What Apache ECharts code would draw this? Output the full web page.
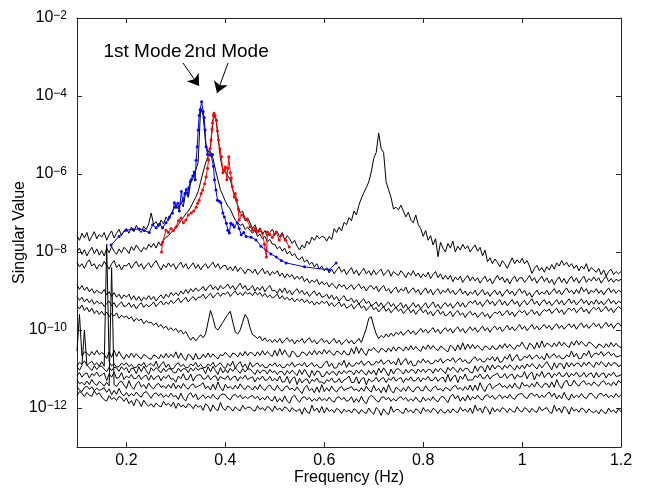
<!DOCTYPE html>
<html><head><meta charset="utf-8">
<script src="https://cdn.jsdelivr.net/npm/echarts@6/dist/echarts.min.js"></script>
<style>html,body{margin:0;padding:0;background:#fff}#c{width:645px;height:490px}</style>
</head><body><div id="c"></div>
<script>
// Frequency grid (Hz), 0.005 Hz resolution
const freq = [
0.1,0.105,0.11,0.115,0.12,0.125,0.13,0.135,0.14,0.145,
0.15,0.155,0.16,0.165,0.17,0.175,0.18,0.185,0.19,0.195,
0.2,0.205,0.21,0.215,0.22,0.225,0.23,0.235,0.24,0.245,
0.25,0.255,0.26,0.265,0.27,0.275,0.28,0.285,0.29,0.295,
0.3,0.305,0.31,0.315,0.32,0.325,0.33,0.335,0.34,0.345,
0.35,0.355,0.36,0.365,0.37,0.375,0.38,0.385,0.39,0.395,
0.4,0.405,0.41,0.415,0.42,0.425,0.43,0.435,0.44,0.445,
0.45,0.455,0.46,0.465,0.47,0.475,0.48,0.485,0.49,0.495,
0.5,0.505,0.51,0.515,0.52,0.525,0.53,0.535,0.54,0.545,
0.55,0.555,0.56,0.565,0.57,0.575,0.58,0.585,0.59,0.595,
0.6,0.605,0.61,0.615,0.62,0.625,0.63,0.635,0.64,0.645,
0.65,0.655,0.66,0.665,0.67,0.675,0.68,0.685,0.69,0.695,
0.7,0.705,0.71,0.715,0.72,0.725,0.73,0.735,0.74,0.745,
0.75,0.755,0.76,0.765,0.77,0.775,0.78,0.785,0.79,0.795,
0.8,0.805,0.81,0.815,0.82,0.825,0.83,0.835,0.84,0.845,
0.85,0.855,0.86,0.865,0.87,0.875,0.88,0.885,0.89,0.895,
0.9,0.905,0.91,0.915,0.92,0.925,0.93,0.935,0.94,0.945,
0.95,0.955,0.96,0.965,0.97,0.975,0.98,0.985,0.99,0.995,
1.0,1.005,1.01,1.015,1.02,1.025,1.03,1.035,1.04,1.045,
1.05,1.055,1.06,1.065,1.07,1.075,1.08,1.085,1.09,1.095,
1.1,1.105,1.11,1.115,1.12,1.125,1.13,1.135,1.14,1.145,
1.15,1.155,1.16,1.165,1.17,1.175,1.18,1.185,1.19,1.195,1.2];

// Singular values (log10 of value), one array per singular value curve
const sv1 = [
-7.58,-7.7,-7.52,-7.64,-7.5,-7.72,-7.6,-7.48,-7.66,-7.55,
-7.62,-7.5,-7.7,-7.56,-7.46,-7.64,-7.52,-7.42,-7.58,-7.46,
-7.4,-7.52,-7.36,-7.48,-7.32,-7.44,-7.5,-7.34,-7.42,-7.28,
-7.0,-7.3,-7.22,-7.36,-7.18,-7.28,-7.1,-7.2,-7.02,-6.92,
-6.78,-6.9,-6.72,-6.84,-6.45,-6.6,-6.2,-6.1,-5.9,-5.7,
-4.3,-4.5,-5.2,-5.45,-5.3,-4.6,-4.5,-5.0,-5.6,-5.9,
-5.95,-6.05,-6.15,-6.4,-6.62,-6.8,-7.0,-6.95,-7.2,-7.12,
-7.25,-7.4,-7.3,-7.48,-7.38,-7.55,-7.45,-7.6,-7.5,-7.42,
-7.55,-7.48,-7.62,-7.5,-7.7,-7.58,-7.66,-7.78,-7.7,-7.85,
-7.95,-7.82,-7.9,-7.72,-7.8,-7.62,-7.7,-7.58,-7.66,-7.6,
-7.62,-7.72,-7.6,-7.68,-7.4,-7.5,-7.36,-7.46,-7.24,-7.3,
-7.12,-7.2,-6.95,-7.05,-6.8,-6.62,-6.48,-6.35,-6.2,-5.95,
-5.6,-5.45,-4.95,-5.35,-5.45,-6.2,-6.4,-6.6,-6.9,-6.85,
-6.92,-6.8,-6.95,-7.1,-6.98,-7.18,-7.25,-7.05,-7.3,-7.4,
-7.6,-7.45,-7.7,-7.58,-7.82,-7.66,-8.12,-7.75,-7.9,-8.0,
-7.78,-7.9,-7.72,-8.0,-7.85,-7.95,-7.8,-7.92,-7.84,-8.0,
-7.9,-7.82,-7.98,-7.88,-8.1,-7.95,-8.25,-8.15,-8.3,-8.18,
-8.26,-8.38,-8.22,-8.3,-8.42,-8.28,-8.15,-8.3,-8.2,-8.28,
-8.16,-8.3,-8.22,-8.36,-8.55,-8.42,-8.34,-8.48,-8.4,-8.52,
-8.38,-8.46,-8.32,-8.44,-8.28,-8.36,-8.22,-8.34,-8.26,-8.38,
-8.3,-8.42,-8.34,-8.48,-8.36,-8.44,-8.3,-8.5,-8.4,-8.46,
-8.52,-8.42,-8.58,-8.46,-8.62,-8.5,-8.44,-8.58,-8.5,-8.56,-8.5];
const sv2 = [
-8.0,-7.9,-8.06,-7.94,-8.1,-7.98,-7.88,-8.04,-7.92,-8.08,
-7.96,-8.1,-7.9,-8.02,-7.86,-7.98,-8.06,-7.92,-8.02,-7.88,
-7.94,-8.04,-7.86,-7.96,-7.82,-7.92,-8.0,-7.88,-7.94,-7.8,
-7.88,-7.78,-7.9,-7.74,-7.84,-7.7,-7.62,-7.58,-7.5,-7.44,
-7.38,-7.3,-7.2,-7.12,-7.02,-6.95,-6.85,-6.72,-6.6,-6.45,
-6.2,-5.95,-5.72,-5.55,-5.42,-5.6,-5.9,-6.15,-6.4,-6.55,
-6.7,-6.82,-6.9,-7.05,-7.18,-7.25,-7.32,-7.28,-7.42,-7.36,
-7.45,-7.52,-7.44,-7.6,-7.54,-7.66,-7.6,-7.74,-7.68,-7.8,
-7.8,-7.92,-7.86,-7.98,-7.9,-8.05,-7.98,-8.1,-8.04,-8.16,
-8.2,-8.12,-8.26,-8.2,-8.32,-8.26,-8.38,-8.3,-8.44,-8.36,
-8.48,-8.4,-8.54,-8.44,-8.56,-8.46,-8.38,-8.52,-8.44,-8.58,
-8.48,-8.4,-8.56,-8.46,-8.6,-8.5,-8.42,-8.56,-8.48,-8.6,
-8.46,-8.58,-8.5,-8.44,-8.6,-8.52,-8.46,-8.62,-8.5,-8.56,
-8.6,-8.48,-8.56,-8.66,-8.52,-8.6,-8.48,-8.62,-8.54,-8.66,
-8.56,-8.64,-8.52,-8.68,-8.58,-8.5,-8.66,-8.56,-8.7,-8.6,
-8.7,-8.6,-8.76,-8.64,-8.72,-8.62,-8.78,-8.68,-8.6,-8.74,
-8.64,-8.74,-8.66,-8.8,-8.7,-8.62,-8.76,-8.68,-8.82,-8.7,
-8.6,-8.72,-8.64,-8.78,-8.68,-8.82,-8.7,-8.62,-8.76,-8.66,
-8.66,-8.78,-8.7,-8.6,-8.74,-8.66,-8.8,-8.7,-8.62,-8.76,
-8.66,-8.8,-8.7,-8.84,-8.72,-8.64,-8.78,-8.68,-8.82,-8.7,
-8.62,-8.76,-8.66,-8.8,-8.7,-8.62,-8.78,-8.68,-8.74,-8.64,
-8.74,-8.66,-8.8,-8.7,-8.62,-8.76,-8.68,-8.78,-8.7,-8.74,-8.7];
const sv3 = [
-8.26,-8.38,-8.3,-8.42,-8.28,-8.2,-8.36,-8.3,-8.44,-8.32,
-8.38,-8.24,-8.34,-8.44,-8.3,-8.22,-8.4,-8.32,-8.46,-8.34,
-8.36,-8.28,-8.42,-8.32,-8.24,-8.38,-8.3,-8.44,-8.34,-8.28,
-8.4,-8.3,-8.22,-8.36,-8.46,-8.32,-8.4,-8.28,-8.38,-8.3,
-8.44,-8.34,-8.26,-8.4,-8.3,-8.44,-8.36,-8.28,-8.42,-8.32,
-8.46,-8.36,-8.3,-8.42,-8.34,-8.26,-8.4,-8.3,-8.44,-8.36,
-8.34,-8.46,-8.38,-8.48,-8.36,-8.5,-8.4,-8.46,-8.56,-8.44,
-8.46,-8.54,-8.44,-8.58,-8.5,-8.42,-8.56,-8.48,-8.6,-8.5,
-8.56,-8.48,-8.62,-8.54,-8.66,-8.56,-8.64,-8.58,-8.7,-8.62,
-8.7,-8.62,-8.76,-8.68,-8.8,-8.72,-8.78,-8.7,-8.84,-8.76,
-8.84,-8.78,-8.9,-8.8,-8.86,-8.94,-8.82,-8.9,-8.84,-8.96,
-8.9,-8.84,-8.96,-8.88,-8.82,-8.94,-8.88,-9.0,-8.9,-8.86,
-8.96,-8.88,-9.02,-8.92,-8.86,-9.0,-8.94,-9.06,-8.96,-8.9,
-9.04,-8.94,-9.0,-8.9,-9.06,-8.98,-8.92,-9.04,-8.96,-9.1,
-9.0,-8.92,-9.06,-8.96,-9.1,-9.0,-8.94,-9.08,-8.98,-9.04,
-8.94,-9.06,-8.98,-9.1,-9.02,-8.94,-9.08,-9.0,-9.12,-9.02,
-9.08,-8.98,-9.12,-9.04,-8.96,-9.1,-9.02,-9.14,-9.04,-8.98,
-9.1,-9.0,-9.14,-9.04,-8.96,-9.08,-9.0,-9.12,-9.02,-8.94,
-9.06,-8.98,-9.12,-9.04,-9.16,-9.06,-8.98,-9.1,-9.02,-9.08,
-8.98,-9.1,-9.02,-8.94,-9.06,-8.98,-9.1,-9.0,-8.92,-9.04,
-8.98,-9.08,-8.96,-9.06,-8.9,-9.02,-8.94,-9.08,-8.98,-9.04,
-8.94,-9.06,-8.98,-9.1,-9.0,-8.92,-9.04,-8.96,-9.06,-8.98,-9.02];
const sv4 = [
-8.84,-8.96,-8.86,-8.98,-8.9,-9.02,-8.94,-9.06,-8.98,-9.04,
-9.06,-8.96,-9.1,-9.02,-9.14,-9.04,-9.16,-9.08,-9.2,-9.1,
-9.16,-9.08,-9.22,-9.12,-9.24,-9.14,-9.26,-9.16,-9.22,-9.12,
-9.22,-9.14,-9.26,-9.16,-9.1,-9.2,-9.08,-9.16,-9.04,-9.12,
-9.04,-9.12,-9.0,-9.08,-8.96,-9.06,-8.94,-9.02,-8.92,-9.0,
-8.96,-8.88,-9.0,-8.9,-8.84,-8.96,-8.88,-8.98,-8.86,-8.94,
-8.9,-8.82,-8.94,-8.86,-8.98,-8.88,-8.8,-8.94,-8.86,-8.98,
-8.94,-8.86,-9.0,-8.9,-8.98,-8.88,-9.02,-8.92,-8.86,-9.0,
-8.98,-9.06,-8.94,-9.04,-8.92,-9.06,-8.98,-9.1,-9.0,-8.94,
-9.06,-8.98,-9.1,-9.02,-9.14,-9.06,-9.0,-9.12,-9.04,-9.16,
-9.14,-9.08,-9.2,-9.1,-9.22,-9.14,-9.26,-9.18,-9.12,-9.24,
-9.24,-9.18,-9.3,-9.22,-9.34,-9.26,-9.2,-9.32,-9.26,-9.38,
-9.34,-9.28,-9.4,-9.3,-9.42,-9.34,-9.28,-9.4,-9.32,-9.44,
-9.36,-9.3,-9.44,-9.34,-9.46,-9.38,-9.3,-9.42,-9.34,-9.46,
-9.38,-9.3,-9.44,-9.36,-9.28,-9.42,-9.34,-9.46,-9.36,-9.3,
-9.4,-9.32,-9.44,-9.36,-9.28,-9.4,-9.3,-9.42,-9.34,-9.26,
-9.32,-9.24,-9.36,-9.28,-9.4,-9.3,-9.22,-9.34,-9.26,-9.38,
-9.28,-9.22,-9.36,-9.26,-9.38,-9.3,-9.22,-9.34,-9.26,-9.4,
-9.3,-9.24,-9.36,-9.28,-9.2,-9.34,-9.26,-9.38,-9.28,-9.22,
-9.34,-9.26,-9.38,-9.3,-9.22,-9.34,-9.24,-9.36,-9.28,-9.2,
-9.32,-9.24,-9.36,-9.28,-9.2,-9.32,-9.24,-9.36,-9.26,-9.34,
-9.22,-9.34,-9.26,-9.36,-9.28,-9.2,-9.32,-9.24,-9.34,-9.26,-9.3];
const sv5 = [
-9.14,-9.24,-9.16,-9.28,-9.2,-9.3,-9.22,-9.34,-9.26,-9.32,
-9.3,-9.4,-9.32,-9.26,-9.38,-9.3,-9.42,-9.34,-9.28,-9.4,
-9.38,-9.3,-9.42,-9.34,-9.46,-9.36,-9.3,-9.42,-9.34,-9.4,
-9.36,-9.28,-9.4,-9.32,-9.26,-9.36,-9.28,-9.34,-9.24,-9.32,
-9.26,-9.18,-9.3,-9.22,-9.16,-9.28,-9.2,-9.14,-9.24,-9.16,
-9.16,-9.08,-9.2,-9.12,-9.06,-9.18,-9.1,-9.04,-9.14,-9.06,
-9.08,-9.02,-9.14,-9.06,-9.0,-9.1,-9.04,-9.12,-9.02,-9.08,
-9.04,-9.12,-9.02,-9.1,-9.04,-9.14,-9.06,-9.16,-9.1,-9.18,
-9.14,-9.08,-9.2,-9.12,-9.22,-9.16,-9.24,-9.18,-9.28,-9.2,
-9.26,-9.2,-9.3,-9.22,-9.32,-9.26,-9.36,-9.28,-9.34,-9.26,
-9.32,-9.26,-9.38,-9.3,-9.4,-9.34,-9.28,-9.4,-9.32,-9.44,
-9.4,-9.34,-9.46,-9.38,-9.32,-9.44,-9.38,-9.5,-9.42,-9.36,
-9.48,-9.42,-9.54,-9.46,-9.4,-9.52,-9.44,-9.56,-9.48,-9.42,
-9.52,-9.46,-9.58,-9.5,-9.44,-9.56,-9.48,-9.6,-9.5,-9.46,
-9.56,-9.48,-9.6,-9.52,-9.64,-9.54,-9.48,-9.6,-9.52,-9.64,
-9.6,-9.52,-9.66,-9.56,-9.5,-9.62,-9.56,-9.68,-9.58,-9.52,
-9.62,-9.56,-9.68,-9.6,-9.54,-9.66,-9.58,-9.7,-9.6,-9.54,
-9.58,-9.52,-9.64,-9.56,-9.5,-9.62,-9.54,-9.66,-9.56,-9.5,
-9.56,-9.5,-9.62,-9.54,-9.48,-9.6,-9.52,-9.64,-9.54,-9.48,
-9.52,-9.46,-9.58,-9.5,-9.44,-9.56,-9.48,-9.6,-9.5,-9.44,
-9.5,-9.44,-9.56,-9.48,-9.42,-9.54,-9.46,-9.58,-9.48,-9.42,
-9.48,-9.42,-9.54,-9.46,-9.4,-9.52,-9.44,-9.56,-9.46,-9.4,-9.45];
const sv6 = [
-9.38,-9.46,-9.36,-9.5,-9.42,-9.54,-9.44,-9.58,-9.5,-9.6,
-9.52,-9.62,-9.54,-9.66,-9.58,-9.64,-9.56,-9.7,-9.62,-9.68,
-9.64,-9.72,-9.66,-9.78,-9.7,-9.76,-9.72,-9.84,-9.76,-9.82,
-9.8,-9.88,-9.82,-9.92,-9.86,-9.96,-9.9,-10.0,-9.94,-10.02,
-9.96,-10.06,-10.0,-10.1,-10.04,-10.16,-10.26,-10.18,-10.28,-10.2,
-10.12,-10.2,-10.1,-9.8,-9.5,-9.7,-9.95,-10.0,-9.9,-9.8,
-9.7,-9.6,-9.52,-9.8,-10.05,-10.1,-10.0,-9.8,-9.6,-9.7,
-9.95,-10.12,-10.16,-10.22,-10.16,-10.28,-10.2,-10.3,-10.24,-10.32,
-10.24,-10.32,-10.22,-10.34,-10.26,-10.2,-10.3,-10.24,-10.36,-10.26,
-10.3,-10.22,-10.34,-10.26,-10.2,-10.32,-10.26,-10.36,-10.28,-10.22,
-10.32,-10.26,-10.36,-10.28,-10.22,-10.34,-10.26,-10.38,-10.3,-10.24,
-10.34,-10.26,-10.36,-10.3,-10.22,-10.32,-10.14,-9.96,-9.7,-9.66,
-9.9,-10.1,-10.22,-10.14,-10.2,-10.1,-10.18,-10.08,-10.16,-10.06,
-10.12,-10.04,-10.14,-10.06,-10.0,-10.1,-10.02,-10.12,-10.04,-9.96,
-10.06,-9.98,-10.08,-10.0,-9.94,-10.06,-9.98,-10.1,-10.0,-9.94,
-10.04,-9.96,-10.08,-9.98,-9.92,-10.04,-9.96,-10.08,-10.0,-9.92,
-10.02,-9.94,-10.06,-9.98,-9.9,-10.02,-9.94,-10.06,-9.96,-9.9,
-10.0,-9.92,-10.04,-9.96,-9.88,-10.0,-9.92,-10.02,-9.94,-9.86,
-9.98,-9.9,-10.02,-9.94,-9.86,-9.98,-9.9,-10.0,-9.92,-9.86,
-9.96,-9.88,-10.0,-9.9,-9.84,-9.96,-9.88,-9.98,-9.9,-9.84,
-9.94,-9.86,-9.98,-9.88,-9.82,-9.94,-9.86,-9.96,-9.88,-9.82,
-9.92,-9.84,-9.96,-9.88,-9.8,-9.92,-9.84,-9.96,-9.86,-9.82,-9.9];
const sv7 = [
-10.54,-9.6,-10.67,-10.56,-10.59,-10.66,-10.55,-10.64,-10.52,-10.63,
-10.58,-10.62,-10.73,-10.56,-10.7,-10.52,-10.68,-10.55,-10.67,-10.75,
-10.62,-10.71,-10.59,-10.7,-10.61,-10.69,-10.74,-10.63,-10.66,-10.73,
-10.75,-10.64,-10.67,-10.74,-10.63,-10.72,-10.6,-10.71,-10.62,-10.7,
-10.56,-10.73,-10.59,-10.71,-10.78,-10.62,-10.66,-10.77,-10.6,-10.74,
-10.73,-10.62,-10.71,-10.59,-10.7,-10.61,-10.69,-10.74,-10.63,-10.66,
-10.57,-10.65,-10.7,-10.59,-10.62,-10.69,-10.58,-10.67,-10.55,-10.66,
-10.57,-10.6,-10.67,-10.56,-10.65,-10.53,-10.64,-10.55,-10.63,-10.68,
-10.52,-10.66,-10.48,-10.64,-10.51,-10.63,-10.7,-10.54,-10.58,-10.69,
-10.67,-10.56,-10.59,-10.66,-10.55,-10.64,-10.52,-10.63,-10.54,-10.62,
-10.5,-10.61,-10.52,-10.6,-10.65,-10.54,-10.57,-10.64,-10.53,-10.62,
-10.64,-10.47,-10.61,-10.43,-10.6,-10.46,-10.58,-10.65,-10.49,-10.53,
-10.45,-10.53,-10.58,-10.47,-10.5,-10.57,-10.46,-10.55,-10.43,-10.54,
-10.44,-10.47,-10.54,-10.43,-10.52,-10.4,-10.51,-10.42,-10.5,-10.55,
-10.41,-10.5,-10.38,-10.49,-10.4,-10.48,-10.53,-10.42,-10.45,-10.52,
-10.56,-10.39,-10.44,-10.54,-10.38,-10.51,-10.33,-10.5,-10.36,-10.48,
-10.37,-10.48,-10.39,-10.47,-10.52,-10.41,-10.44,-10.51,-10.4,-10.49,
-10.49,-10.38,-10.47,-10.35,-10.46,-10.37,-10.45,-10.5,-10.39,-10.42,
-10.31,-10.43,-10.5,-10.34,-10.38,-10.49,-10.32,-10.46,-10.28,-10.44,
-10.34,-10.37,-10.44,-10.33,-10.42,-10.3,-10.41,-10.32,-10.4,-10.45,
-10.3,-10.39,-10.27,-10.38,-10.29,-10.37,-10.42,-10.31,-10.34,-10.41,
-10.47,-10.36,-10.39,-10.46,-10.35,-10.44,-10.32,-10.43,-10.34,-10.42,-10.45];
const sv8 = [
-10.92,-10.83,-10.88,-10.79,-10.91,-10.85,-10.8,-10.9,-10.84,-10.93,
-10.81,-10.93,-7.8,-10.82,-10.92,-10.86,-10.95,-10.94,-10.85,-10.9,
-10.84,-10.94,-10.88,-10.97,-10.96,-10.87,-10.92,-10.83,-10.95,-10.89,
-10.86,-10.93,-10.8,-10.98,-10.88,-10.81,-10.96,-10.87,-11.0,-10.99,
-10.89,-10.84,-10.94,-10.88,-10.97,-10.96,-10.87,-10.92,-10.83,-10.95,
-10.88,-10.97,-10.96,-10.87,-10.92,-10.83,-10.95,-10.89,-10.84,-10.94,
-10.99,-10.86,-10.93,-10.8,-10.98,-10.88,-10.81,-10.96,-10.87,-11.0,
-10.83,-10.95,-10.89,-10.84,-10.94,-10.88,-10.97,-10.96,-10.87,-10.92,
-10.84,-10.94,-10.88,-10.97,-10.96,-10.87,-10.92,-10.83,-10.95,-10.89,
-10.87,-10.92,-10.83,-10.95,-10.89,-10.84,-10.94,-10.88,-10.97,-10.96,
-10.86,-10.79,-10.94,-10.85,-10.98,-10.97,-10.84,-10.91,-10.78,-10.96,
-10.84,-10.93,-10.92,-10.83,-10.88,-10.79,-10.91,-10.85,-10.8,-10.9,
-10.89,-10.8,-10.85,-10.76,-10.88,-10.82,-10.77,-10.87,-10.81,-10.9,
-10.72,-10.9,-10.8,-10.73,-10.88,-10.79,-10.92,-10.91,-10.78,-10.85,
-10.74,-10.84,-10.78,-10.87,-10.86,-10.77,-10.82,-10.73,-10.85,-10.79,
-10.75,-10.8,-10.71,-10.83,-10.77,-10.72,-10.82,-10.76,-10.85,-10.84,
-10.74,-10.69,-10.79,-10.73,-10.82,-10.81,-10.72,-10.77,-10.68,-10.8,
-10.69,-10.83,-10.81,-10.68,-10.75,-10.62,-10.8,-10.7,-10.63,-10.78,
-10.76,-10.67,-10.72,-10.63,-10.75,-10.69,-10.64,-10.74,-10.68,-10.77,
-10.6,-10.72,-10.66,-10.61,-10.71,-10.65,-10.74,-10.73,-10.64,-10.69,
-10.54,-10.69,-10.6,-10.74,-10.72,-10.59,-10.66,-10.53,-10.71,-10.62,
-10.59,-10.64,-10.55,-10.67,-10.61,-10.56,-10.66,-10.6,-10.69,-10.68,-10.65];
const sv9 = [
-10.94,-11.03,-10.91,-10.0,-10.9,-10.97,-11.04,-10.92,-11.01,-10.93,
-10.93,-11.0,-11.07,-10.95,-11.04,-10.96,-10.97,-11.06,-10.94,-11.02,
-10.96,-11.1,-10.98,-10.99,-11.12,-10.94,-11.07,-10.93,-11.04,-11.14,
-10.97,-11.05,-10.96,-11.03,-11.1,-10.98,-11.07,-10.99,-11.0,-11.09,
-11.1,-10.98,-11.07,-10.99,-11.0,-11.09,-10.97,-11.05,-10.96,-11.03,
-10.98,-10.99,-11.12,-10.94,-11.07,-10.93,-11.04,-11.14,-10.96,-11.1,
-11.01,-11.1,-10.98,-11.06,-10.97,-11.04,-11.11,-10.99,-11.08,-11.0,
-11.0,-11.07,-11.14,-11.02,-11.11,-11.03,-11.04,-11.13,-11.01,-11.09,
-11.05,-11.14,-11.06,-11.07,-11.16,-11.04,-11.12,-11.03,-11.1,-11.17,
-11.02,-11.14,-11.01,-11.11,-11.22,-11.04,-11.17,-11.05,-11.07,-11.2,
-11.18,-11.06,-11.15,-11.07,-11.08,-11.17,-11.05,-11.13,-11.04,-11.11,
-11.05,-11.06,-11.15,-11.03,-11.11,-11.02,-11.09,-11.16,-11.04,-11.13,
-11.03,-11.16,-10.98,-11.1,-10.97,-11.07,-11.18,-11.0,-11.13,-11.01,
-10.99,-11.06,-11.13,-11.01,-11.1,-11.02,-11.03,-11.12,-11.0,-11.08,
-11.0,-11.09,-11.01,-11.02,-11.11,-10.99,-11.07,-10.98,-11.05,-11.12,
-10.96,-11.04,-10.95,-11.02,-11.09,-10.97,-11.06,-10.98,-10.99,-11.08,
-11.1,-10.92,-11.06,-10.94,-10.95,-11.08,-10.9,-11.03,-10.89,-11.0,
-10.92,-10.93,-11.02,-10.9,-10.98,-10.89,-10.96,-11.03,-10.91,-11.0,
-10.9,-10.99,-10.87,-10.95,-10.86,-10.93,-11.0,-10.88,-10.97,-10.89,
-10.81,-10.92,-11.02,-10.84,-10.98,-10.86,-10.87,-11.0,-10.83,-10.95,
-10.84,-10.93,-10.85,-10.86,-10.95,-10.83,-10.91,-10.82,-10.89,-10.96,
-10.82,-10.9,-10.81,-10.88,-10.95,-10.83,-10.92,-10.84,-10.85,-10.94,-10.9];
const sv10 = [
-11.18,-11.09,-11.21,-11.13,-11.1,-11.23,-11.12,-11.17,-11.08,-11.19,
-11.15,-11.1,-11.3,-11.13,-11.21,-11.08,-11.24,-11.22,-11.09,-11.27,
-11.18,-11.23,-11.14,-11.25,-11.24,-11.15,-11.27,-11.19,-11.16,-11.29,
-11.16,-11.28,-11.2,-11.17,-11.3,-11.19,-11.24,-11.15,-11.26,-11.25,
-11.34,-11.18,-11.25,-11.12,-11.28,-11.26,-11.13,-11.31,-11.19,-11.15,
-11.15,-11.26,-11.25,-11.16,-11.28,-11.2,-11.17,-11.3,-11.19,-11.24,
-11.26,-11.17,-11.29,-11.21,-11.18,-11.31,-11.2,-11.25,-11.16,-11.27,
-11.23,-11.2,-11.33,-11.22,-11.27,-11.18,-11.29,-11.28,-11.19,-11.31,
-11.24,-11.31,-11.18,-11.34,-11.32,-11.19,-11.37,-11.25,-11.2,-11.4,
-11.24,-11.36,-11.28,-11.25,-11.38,-11.27,-11.32,-11.23,-11.34,-11.33,
-11.38,-11.27,-11.32,-11.23,-11.34,-11.33,-11.24,-11.36,-11.28,-11.25,
-11.18,-11.35,-11.34,-11.2,-11.38,-11.26,-11.22,-11.41,-11.25,-11.32,
-11.3,-11.21,-11.33,-11.25,-11.22,-11.35,-11.24,-11.29,-11.2,-11.31,
-11.25,-11.22,-11.35,-11.24,-11.29,-11.2,-11.31,-11.3,-11.21,-11.33,
-11.23,-11.28,-11.19,-11.3,-11.29,-11.2,-11.32,-11.24,-11.21,-11.34,
-11.14,-11.32,-11.2,-11.16,-11.35,-11.18,-11.26,-11.13,-11.29,-11.28,
-11.28,-11.17,-11.22,-11.13,-11.24,-11.23,-11.14,-11.26,-11.18,-11.15,
-11.11,-11.22,-11.21,-11.12,-11.24,-11.16,-11.13,-11.26,-11.15,-11.2,
-11.2,-11.07,-11.25,-11.13,-11.08,-11.28,-11.12,-11.19,-11.06,-11.22,
-11.13,-11.1,-11.23,-11.12,-11.17,-11.08,-11.19,-11.18,-11.09,-11.21,
-11.12,-11.17,-11.08,-11.19,-11.18,-11.09,-11.21,-11.13,-11.1,-11.23,
-11.09,-11.21,-11.13,-11.1,-11.23,-11.12,-11.17,-11.08,-11.19,-11.18,-11.15];
const sv11 = [
-11.28,-11.38,-11.34,-11.41,-11.31,-11.4,-11.27,-11.37,-11.42,-11.32,
-11.37,-11.44,-11.34,-11.43,-8.4,-11.4,-11.45,-11.35,-11.31,-11.41,
-11.5,-11.3,-11.45,-11.52,-11.38,-11.32,-11.46,-11.4,-11.51,-11.36,
-11.46,-11.51,-11.41,-11.37,-11.47,-11.43,-11.5,-11.4,-11.49,-11.36,
-11.51,-11.41,-11.5,-11.37,-11.47,-11.52,-11.42,-11.38,-11.48,-11.44,
-11.41,-11.35,-11.5,-11.44,-11.54,-11.39,-11.53,-11.33,-11.48,-11.56,
-11.39,-11.49,-11.45,-11.52,-11.42,-11.51,-11.38,-11.48,-11.53,-11.43,
-11.47,-11.54,-11.44,-11.53,-11.4,-11.5,-11.55,-11.45,-11.41,-11.51,
-11.55,-11.42,-11.52,-11.57,-11.47,-11.43,-11.53,-11.49,-11.56,-11.46,
-11.55,-11.63,-11.48,-11.42,-11.56,-11.5,-11.61,-11.46,-11.6,-11.4,
-11.58,-11.48,-11.57,-11.44,-11.54,-11.59,-11.49,-11.45,-11.55,-11.51,
-11.49,-11.45,-11.55,-11.51,-11.58,-11.48,-11.57,-11.44,-11.54,-11.59,
-11.42,-11.56,-11.5,-11.61,-11.46,-11.6,-11.4,-11.55,-11.62,-11.47,
-11.51,-11.58,-11.48,-11.57,-11.44,-11.54,-11.59,-11.49,-11.45,-11.55,
-11.56,-11.43,-11.53,-11.58,-11.48,-11.44,-11.54,-11.5,-11.57,-11.47,
-11.51,-11.56,-11.46,-11.42,-11.52,-11.48,-11.55,-11.45,-11.54,-11.41,
-11.56,-11.41,-11.55,-11.35,-11.5,-11.58,-11.43,-11.37,-11.51,-11.45,
-11.41,-11.37,-11.47,-11.43,-11.5,-11.4,-11.49,-11.36,-11.46,-11.51,
-11.34,-11.44,-11.4,-11.47,-11.37,-11.46,-11.33,-11.43,-11.48,-11.38,
-11.38,-11.48,-11.33,-11.47,-11.27,-11.42,-11.5,-11.35,-11.28,-11.43,
-11.42,-11.29,-11.39,-11.44,-11.34,-11.3,-11.4,-11.36,-11.43,-11.33,
-11.39,-11.44,-11.34,-11.3,-11.4,-11.36,-11.43,-11.33,-11.42,-11.29,-11.36];
const sv12 = [
-11.45,-11.54,-11.58,-11.47,-11.44,-11.52,-11.46,-11.56,-11.49,-11.55,
-11.52,-11.48,-11.6,-11.51,-11.66,-11.55,-11.65,-11.5,-11.63,-11.69,
-11.6,-11.7,-11.63,-11.69,-11.59,-11.68,-11.72,-11.61,-11.58,-11.66,
-11.75,-11.64,-11.61,-11.69,-11.63,-11.73,-11.66,-11.72,-11.62,-11.71,
-11.68,-11.78,-11.62,-11.76,-11.82,-11.66,-11.61,-11.73,-11.64,-11.79,
-11.72,-11.66,-11.76,-11.69,-11.75,-11.65,-11.74,-11.78,-11.67,-11.64,
-11.66,-11.75,-11.79,-11.68,-11.65,-11.73,-11.67,-11.77,-11.7,-11.76,
-11.71,-11.68,-11.76,-11.7,-11.8,-11.73,-11.79,-11.69,-11.78,-11.82,
-11.7,-11.85,-11.75,-11.84,-11.69,-11.82,-11.88,-11.72,-11.67,-11.79,
-11.85,-11.74,-11.71,-11.79,-11.73,-11.83,-11.76,-11.82,-11.72,-11.81,
-11.76,-11.82,-11.72,-11.81,-11.85,-11.74,-11.71,-11.79,-11.73,-11.83,
-11.8,-11.71,-11.86,-11.76,-11.85,-11.7,-11.83,-11.89,-11.73,-11.68,
-11.72,-11.81,-11.85,-11.74,-11.71,-11.79,-11.73,-11.83,-11.76,-11.82,
-11.74,-11.71,-11.79,-11.73,-11.83,-11.76,-11.82,-11.72,-11.81,-11.85,
-11.72,-11.82,-11.75,-11.81,-11.71,-11.8,-11.84,-11.73,-11.7,-11.78,
-11.86,-11.7,-11.65,-11.77,-11.68,-11.83,-11.72,-11.82,-11.67,-11.8,
-11.71,-11.77,-11.67,-11.76,-11.8,-11.69,-11.66,-11.74,-11.68,-11.78,
-11.72,-11.66,-11.76,-11.69,-11.75,-11.65,-11.74,-11.78,-11.67,-11.64,
-11.63,-11.72,-11.76,-11.65,-11.62,-11.7,-11.64,-11.74,-11.67,-11.73,
-11.64,-11.59,-11.71,-11.62,-11.77,-11.67,-11.76,-11.6,-11.74,-11.8,
-11.64,-11.74,-11.67,-11.73,-11.63,-11.72,-11.76,-11.65,-11.62,-11.7,
-11.76,-11.65,-11.62,-11.7,-11.64,-11.74,-11.67,-11.73,-11.63,-11.72,-11.66];
const sv13 = [
-11.69,-11.58,-11.62,-11.71,-11.6,-11.67,-11.7,-11.56,-11.66,-11.61,
-11.72,-11.79,-11.82,-11.68,-11.78,-11.73,-11.81,-11.7,-11.74,-11.83,
-11.74,-11.89,-11.81,-11.94,-11.77,-11.83,-11.96,-11.8,-11.9,-11.95,
-11.89,-11.98,-11.87,-11.94,-11.97,-11.83,-11.93,-11.88,-11.96,-11.85,
-12.01,-11.87,-11.97,-11.92,-12.0,-11.89,-11.93,-12.02,-11.91,-11.98,
-11.94,-12.06,-11.89,-11.95,-12.09,-11.92,-12.03,-12.07,-11.86,-12.01,
-12.06,-11.95,-11.99,-12.08,-11.97,-12.04,-12.07,-11.93,-12.03,-11.98,
-11.98,-12.05,-12.08,-11.94,-12.04,-11.99,-12.07,-11.96,-12.0,-12.09,
-11.95,-12.05,-12.0,-12.08,-11.97,-12.01,-12.1,-11.99,-12.06,-12.09,
-12.02,-12.16,-11.99,-12.1,-12.14,-11.93,-12.08,-12.0,-12.12,-11.96,
-12.13,-11.99,-12.09,-12.04,-12.12,-12.01,-12.05,-12.14,-12.03,-12.1,
-12.05,-12.13,-12.02,-12.06,-12.15,-12.04,-12.11,-12.14,-12.0,-12.1,
-12.16,-11.99,-12.05,-12.19,-12.02,-12.12,-12.17,-11.96,-12.11,-12.04,
-12.04,-12.11,-12.14,-12.0,-12.1,-12.05,-12.13,-12.02,-12.06,-12.15,
-11.99,-12.09,-12.04,-12.12,-12.01,-12.05,-12.14,-12.03,-12.1,-12.13,
-12.04,-12.13,-12.02,-12.09,-12.12,-11.98,-12.08,-12.03,-12.11,-12.0,
-12.14,-11.93,-12.08,-12.0,-12.13,-11.96,-12.02,-12.16,-11.99,-12.1,
-12.02,-12.1,-11.99,-12.03,-12.12,-12.01,-12.08,-12.11,-11.97,-12.07,
-12.1,-11.99,-12.03,-12.12,-12.01,-12.08,-12.11,-11.97,-12.07,-12.02,
-11.99,-12.1,-12.14,-11.93,-12.08,-12.0,-12.13,-11.96,-12.02,-12.16,
-11.98,-12.08,-12.03,-12.11,-12.0,-12.04,-12.13,-12.02,-12.09,-12.12,
-12.06,-12.15,-12.04,-12.11,-12.14,-12.0,-12.1,-12.05,-12.13,-12.02,-12.1];

// 1st mode (blue) segment
const mode1Freq = [0.169,0.185,0.199,0.213,0.226,0.236,0.246,0.253,0.26,0.267,0.273,0.28,0.287,0.293,0.297,0.30,0.304,0.307,0.311,0.314,0.318,0.321,0.324,0.326,0.329,0.331,0.334,0.337,0.339,0.341,0.343,0.345,0.347,0.349,0.352,0.355,0.357,0.359,0.361,0.364,0.368,0.371,0.374,0.376,0.378,0.381,0.384,0.388,0.391,0.395,0.398,0.402,0.405,0.408,0.411,0.415,0.418,0.424,0.428,0.432,0.437,0.442,0.452,0.462,0.472,0.482,0.492,0.503,0.513,0.523,0.56,0.61,0.624];
const mode1Log = [-7.82,-7.6,-7.44,-7.42,-7.41,-7.45,-7.5,-7.3,-7.38,-7.28,-7.38,-7.25,-7.1,-7.0,-6.74,-6.85,-6.75,-6.95,-6.45,-6.7,-6.5,-6.4,-6.5,-6.35,-6.2,-6.15,-6.05,-5.95,-6.15,-5.65,-5.3,-4.87,-4.5,-4.35,-4.15,-4.4,-4.55,-4.87,-5.3,-5.5,-5.5,-5.51,-5.5,-5.8,-6.15,-6.41,-6.67,-6.7,-6.74,-7.0,-7.1,-7.26,-7.44,-7.51,-7.26,-7.3,-7.36,-7.25,-7.4,-7.56,-7.5,-7.6,-7.62,-7.69,-7.85,-7.95,-8.05,-8.13,-8.22,-8.28,-8.38,-8.46,-8.28];
// 2nd mode (red) segment
const mode2Freq = [0.271,0.273,0.28,0.285,0.29,0.295,0.30,0.305,0.31,0.315,0.32,0.325,0.331,0.336,0.341,0.344,0.347,0.351,0.354,0.358,0.361,0.364,0.366,0.369,0.371,0.373,0.374,0.376,0.377,0.379,0.382,0.384,0.386,0.389,0.392,0.395,0.397,0.40,0.403,0.405,0.407,0.41,0.412,0.414,0.418,0.42,0.423,0.426,0.428,0.433,0.438,0.444,0.45,0.455,0.46,0.465,0.47,0.475,0.479,0.483,0.485,0.49,0.495,0.499,0.503,0.509,0.515,0.522,0.529];
const mode2Log = [-8.0,-7.75,-7.44,-7.5,-7.4,-7.45,-7.36,-7.2,-7.13,-7.25,-7.18,-7.05,-7.0,-6.95,-6.85,-6.75,-6.67,-6.5,-6.41,-6.25,-6.08,-5.85,-5.64,-5.35,-5.13,-4.85,-4.69,-4.5,-4.44,-4.5,-4.62,-4.9,-5.13,-5.35,-5.56,-5.97,-5.9,-5.82,-6.15,-5.85,-5.56,-5.97,-6.1,-6.33,-6.59,-6.5,-6.67,-6.9,-7.18,-7.05,-7.1,-7.18,-7.35,-7.44,-7.4,-7.49,-7.45,-7.51,-7.8,-8.13,-7.49,-7.55,-7.62,-7.55,-7.49,-7.69,-7.56,-7.7,-7.87];

const xTicks = [0.2,0.4,0.6,0.8,1,1.2];
const yTickExp = [-12,-10,-8,-6,-4,-2];
const modeLabels = ['1st Mode','2nd Mode'];

const FONT = "'Liberation Sans', Arial, Helvetica, sans-serif";
const blackSeries = [sv1,sv2,sv3,sv4,sv5,sv6,sv7,sv8,sv9,sv10,sv11,sv12,sv13];
const series = blackSeries.map((arr, k) => ({
  type: 'line', name: 'sv' + (k+1), data: freq.map((f,i) => [f, arr[i]]),
  showSymbol: false, symbol: 'none', lineStyle: {color: '#000', width: 1},
  silent: true, z: 2
}));
series.push({
  type: 'line', name: 'mode1', data: mode1Freq.map((f,i) => [f, mode1Log[i]]),
  symbol: 'circle', symbolSize: 3, showSymbol: true,
  itemStyle: {color: '#0000ff'}, lineStyle: {color: '#0000ff', width: 1}, silent: true, z: 3
});
series.push({
  type: 'line', name: 'mode2', data: mode2Freq.map((f,i) => [f, mode2Log[i]]),
  symbol: 'circle', symbolSize: 3, showSymbol: true,
  itemStyle: {color: '#ff0000'}, lineStyle: {color: '#ff0000', width: 1}, silent: true, z: 4
});
// annotations (text + arrows) placed in data coordinates
series.push({
  type: 'line', name: 'annot', data: [], silent: true, z: 5,
  markPoint: {
    silent: true, animation: false,
    data: [
      {coord: [0.2325, -2.87], value: modeLabels[0]},
      {coord: [0.4023, -2.87], value: modeLabels[1]}
    ],
    symbol: 'rect', symbolSize: 1, itemStyle: {color: 'rgba(0,0,0,0)'},
    label: {show: true, position: 'inside', formatter: p => p.value, color: '#000', fontSize: 19, fontFamily: FONT}
  },
  markLine: {
    silent: true, animation: false, symbol: ['none', 'arrow'], symbolSize: 11,
    itemStyle: {color: '#000'},
    lineStyle: {color: '#000', width: 1, type: 'solid'}, label: {show: false},
    data: [
      [{coord: [0.3144, -3.154]}, {coord: [0.3467, -3.744]}],
      [{coord: [0.4054, -3.154]}, {coord: [0.3831, -3.923]}]
    ]
  }
});

const axisLineStyle = {lineStyle: {color: '#262626', width: 1}};
const option = {
  animation: false,
  backgroundColor: '#fff',
  grid: {left: 77, top: 18, right: 24, bottom: 43, containLabel: false, outerBoundsMode: 'none'},
  xAxis: [{
    type: 'value', min: 0.1, max: 1.2, position: 'bottom',
    name: 'Frequency (Hz)', nameLocation: 'middle', nameGap: 23, nameMoveOverlap: false,
    nameTextStyle: {fontSize: 16, color: '#000', fontFamily: FONT},
    axisLine: axisLineStyle,
    axisTick: {inside: true, length: 5, customValues: xTicks, lineStyle: {color: '#262626'}},
    axisLabel: {customValues: xTicks, fontSize: 16, color: '#000', fontFamily: FONT, margin: 6},
    splitLine: {show: false}
  }, {
    type: 'value', min: 0.1, max: 1.2, position: 'top',
    axisLine: axisLineStyle,
    axisTick: {inside: true, length: 5, customValues: xTicks, lineStyle: {color: '#262626'}},
    axisLabel: {show: false}, splitLine: {show: false}
  }],
  yAxis: [{
    type: 'value', min: -13, max: -2, position: 'left',
    name: 'Singular Value', nameLocation: 'middle', nameGap: 49, nameMoveOverlap: false,
    nameTextStyle: {fontSize: 16, color: '#000', fontFamily: FONT},
    axisLine: axisLineStyle,
    axisTick: {inside: true, length: 5, customValues: yTickExp, lineStyle: {color: '#262626'}},
    axisLabel: {
      customValues: yTickExp, margin: 10,
      formatter: v => '{b|10}{s|' + (v < 0 ? '\u2212' : '') + Math.abs(v) + '}',
      rich: {
        b: {fontSize: 16, fontFamily: FONT, color: '#000', lineHeight: 16, verticalAlign: 'bottom', padding: [5, 0, 0, 0]},
        s: {fontSize: 12, fontFamily: FONT, color: '#000', lineHeight: 12, verticalAlign: 'top'}
      }
    },
    splitLine: {show: false}
  }, {
    type: 'value', min: -13, max: -2, position: 'right',
    axisLine: axisLineStyle,
    axisTick: {inside: true, length: 5, customValues: yTickExp, lineStyle: {color: '#262626'}},
    axisLabel: {show: false}, splitLine: {show: false}
  }],
  series: series
};
const chart = echarts.init(document.getElementById('c'), null, {renderer: 'canvas'});
chart.setOption(option);
</script>
</body></html>
